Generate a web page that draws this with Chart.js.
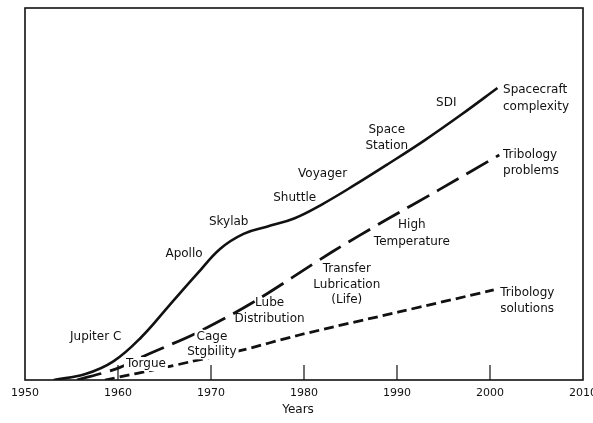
<!DOCTYPE html>
<html>
<head>
<meta charset="utf-8">
<script src="https://cdn.jsdelivr.net/npm/chart.js@4/dist/chart.umd.min.js"></script>
<style>
  html, body { margin: 0; padding: 0; background: #fff; }
  canvas { display: block; }
</style>
</head>
<body>
<canvas id="chart" width="593" height="423"></canvas>
<script>
// spacecraft complexity (solid curve)
const complexityYears = [1953.1, 1956.5, 1959.5, 1962.5, 1965.5, 1968.5, 1971.0, 1973.5, 1976.0, 1979.0, 1982.0, 1985.5, 1989.0, 1993.0, 1997.0, 2000.8];
const complexityValues = [0, 1.6, 5.0, 11.5, 20.0, 28.5, 35.3, 39.3, 41.2, 43.5, 47.3, 52.5, 58.0, 64.5, 71.5, 78.5];

// tribology problems (long dashes)
const problemYears = [1955.6, 1959.8, 1963.3, 1968.4, 1974.4, 1983.0, 1988.8, 1994.5, 2001.0];
const problemValues = [0, 3.0, 7.0, 12.6, 20.7, 34.4, 43.0, 51.1, 60.5];

// tribology solutions (short dashes)
const solutionYears = [1958.6, 1965.3, 1967.6, 1973.0, 1979.5, 1990.2, 2000.4];
const solutionValues = [0, 3.5, 4.8, 7.8, 12.1, 18.3, 24.2];

const tickYears = [1950, 1960, 1970, 1980, 1990, 2000, 2010];

// captions along the curves, placed in data units
const notes = [
  { lines: ['Spacecraft', 'complexity'], year: 2001.4, value: 78.0, align: 'left', gap: 17 },
  { lines: ['Tribology', 'problems'], year: 2001.4, value: 60.5, align: 'left' },
  { lines: ['Tribology', 'solutions'], year: 2001.1, value: 23.4, align: 'left' },
  { lines: ['SDI'], year: 1995.3, value: 74.5 },
  { lines: ['Space', 'Station'], year: 1988.9, value: 67.2 },
  { lines: ['Voyager'], year: 1982.0, value: 55.4 },
  { lines: ['Shuttle'], year: 1979.0, value: 48.9 },
  { lines: ['Skylab'], year: 1971.9, value: 42.5 },
  { lines: ['Apollo'], year: 1967.1, value: 33.9 },
  { lines: ['Jupiter C'], year: 1957.6, value: 11.6 },
  { lines: ['Torgue'], year: 1963.0, value: 4.3, knockout: true },
  { lines: ['Cage', 'Stgbility'], year: 1970.1, value: 11.6, knockout: true },
  { lines: ['Lube', 'Distribution'], year: 1976.3, value: 20.7 },
  { lines: ['Transfer', 'Lubrication', '(Life)'], year: 1984.6, value: 29.8 },
  { lines: ['High', 'Temperature'], year: 1991.6, value: 41.7, gap: 17 }
];

const ink = '#111';
const noteFont = '12px "DejaVu Sans", sans-serif';
const tickFont = '11px "DejaVu Sans", sans-serif';

function points(xs, ys) {
  return xs.map((x, i) => ({ x: x, y: ys[i] }));
}

const decor = {
  id: 'decor',
  afterDatasetsDraw(chart) {
    const ctx = chart.ctx;
    const area = chart.chartArea;
    const xs = chart.scales.x;
    const ys = chart.scales.y;
    ctx.save();

    // labels on the curves
    ctx.font = noteFont;
    ctx.textBaseline = 'middle';
    notes.forEach(n => {
      const px = xs.getPixelForValue(n.year);
      const py = ys.getPixelForValue(n.value);
      ctx.textAlign = n.align || 'center';
      n.lines.forEach((line, i) => {
        const y = py + i * (n.gap || 15.5);
        if (n.knockout) {
          const w = ctx.measureText(line).width;
          const left = ctx.textAlign === 'left' ? px : px - w / 2;
          ctx.fillStyle = '#fff';
          ctx.fillRect(left - 2, y - 7, w + 4, 14);
        }
        ctx.fillStyle = ink;
        ctx.fillText(line, px, y);
      });
    });

    // frame
    ctx.strokeStyle = ink;
    ctx.lineWidth = 1.6;
    ctx.strokeRect(area.left, area.top, area.right - area.left, area.bottom - area.top);

    // inward ticks and year labels
    ctx.lineWidth = 1.2;
    ctx.font = tickFont;
    ctx.textAlign = 'center';
    ctx.textBaseline = 'middle';
    tickYears.forEach((yr, i) => {
      const px = xs.getPixelForValue(yr);
      if (i > 0 && i < tickYears.length - 1) {
        ctx.beginPath();
        ctx.moveTo(px, area.bottom);
        ctx.lineTo(px, area.bottom - 15);
        ctx.stroke();
      }
      ctx.fillStyle = ink;
      ctx.fillText(String(yr), px, area.bottom + 13);
    });

    ctx.font = noteFont;
    ctx.fillText('Years', (area.left + area.right) / 2 - 6, area.bottom + 30);
    ctx.restore();
  }
};

new Chart(document.getElementById('chart').getContext('2d'), {
  type: 'line',
  data: {
    datasets: [
      {
        data: points(complexityYears, complexityValues),
        borderColor: ink,
        borderWidth: 2.6,
        tension: 0.4
      },
      {
        data: points(problemYears, problemValues),
        borderColor: ink,
        borderWidth: 2.8,
        borderDash: [25, 9],
        tension: 0.3
      },
      {
        data: points(solutionYears, solutionValues),
        borderColor: ink,
        borderWidth: 2.8,
        borderDash: [10, 5],
        tension: 0.3
      }
    ]
  },
  options: {
    responsive: false,
    animation: false,
    devicePixelRatio: 1,
    layout: { padding: { left: 25, right: 10, top: 8, bottom: 43 } },
    elements: { point: { radius: 0 } },
    plugins: { legend: { display: false }, tooltip: { enabled: false } },
    scales: {
      x: { type: 'linear', min: 1950, max: 2010, display: false },
      y: { min: 0, max: 100, display: false }
    }
  },
  plugins: [decor]
});
</script>
</body>
</html>
